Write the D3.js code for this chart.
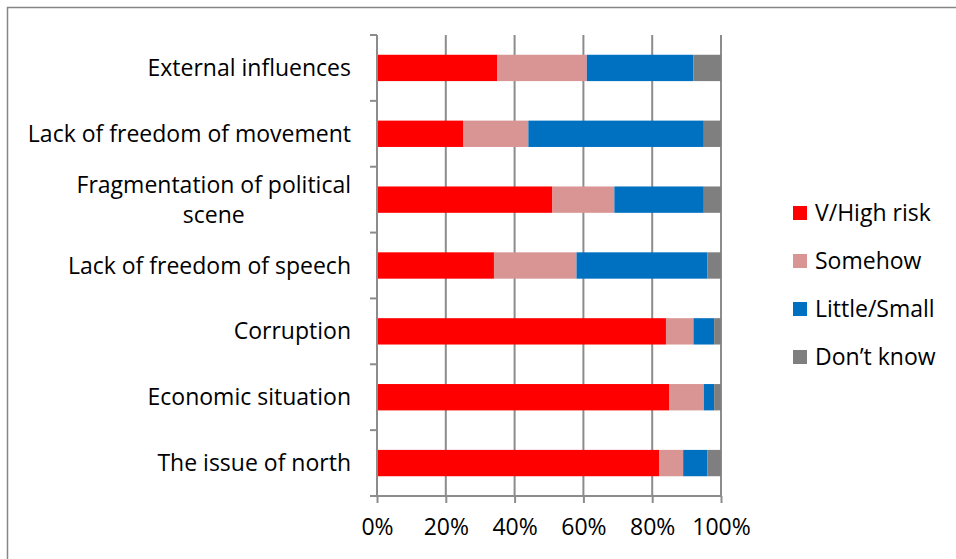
<!DOCTYPE html>
<html>
<head>
<meta charset="utf-8">
<script src="https://cdn.jsdelivr.net/npm/d3@7"></script>
<style>
  html, body { margin: 0; padding: 0; background: #fff; }
  svg text { font-family: "Open Sans", Lato, sans-serif; fill: #000; }
</style>
</head>
<body>
<svg id="chart" width="956" height="559"></svg>
<script>
// Perceived risks: share of answers per category (percent)
const categories = [
  "External influences",
  "Lack of freedom of movement",
  "Fragmentation of political scene",
  "Lack of freedom of speech",
  "Corruption",
  "Economic situation",
  "The issue of north"
];
const seriesNames = ["V/High risk", "Somehow", "Little/Small", "Don\u2019t know"];
const highRisk  = [35, 25, 51, 34, 84, 85, 82];
const somehow   = [26, 19, 18, 24,  8, 10,  7];
const little    = [31, 51, 26, 38,  6,  3,  7];
const dontKnow  = [ 8,  5,  5,  4,  2,  2,  4];
const xTicks = [0, 20, 40, 60, 80, 100];
const colors = ["#FF0000", "#D99594", "#0070C0", "#7F7F7F"];

// Wrapped label lines
const labelLines = {
  "Fragmentation of political scene": ["Fragmentation of political", "scene"]
};

const FONT = "23px";
const LABEL_RIGHT = 351;
const svg = d3.select("#chart");

// Outer frame
svg.append("rect")
  .attr("x", 7.5).attr("y", 7.5)
  .attr("width", 1000).attr("height", 1000)
  .attr("fill", "none").attr("stroke", "#868686").attr("stroke-width", 1.5);

const x0 = 377, x1 = 721, yTop = 35, yBot = 496;
const x = d3.scaleLinear().domain([0, 100]).range([x0, x1]);
const y = d3.scaleBand().domain(categories).range([yTop, yBot])
  .paddingInner(0.6).paddingOuter(0.3);

// Vertical gridlines
svg.append("g").selectAll("line")
  .data(xTicks.filter(t => t > 0))
  .join("line")
  .attr("x1", d => x(d)).attr("x2", d => x(d))
  .attr("y1", yTop).attr("y2", yBot)
  .attr("stroke", "#8C8C8C").attr("stroke-width", 2);

// Stacked bars
const rows = categories.map((c, i) => ({
  cat: c,
  [seriesNames[0]]: highRisk[i],
  [seriesNames[1]]: somehow[i],
  [seriesNames[2]]: little[i],
  [seriesNames[3]]: dontKnow[i]
}));
const stacked = d3.stack().keys(seriesNames)(rows);

svg.append("g").selectAll("g")
  .data(stacked)
  .join("g")
  .attr("fill", (d, i) => colors[i])
  .selectAll("rect")
  .data(d => d)
  .join("rect")
  .attr("x", d => x(d[0]))
  .attr("width", d => x(d[1]) - x(d[0]))
  .attr("y", d => y(d.data.cat))
  .attr("height", y.bandwidth());

// Left axis line and category boundary ticks
const step = y.step();
const bounds = d3.range(categories.length + 1).map(i => yTop + i * step);
svg.append("line")
  .attr("x1", x0).attr("x2", x0).attr("y1", yTop).attr("y2", yBot)
  .attr("stroke", "#8C8C8C").attr("stroke-width", 2);
svg.append("g").selectAll("line")
  .data(bounds).join("line")
  .attr("x1", x0 - 7).attr("x2", x0)
  .attr("y1", d => d).attr("y2", d => d)
  .attr("stroke", "#8C8C8C").attr("stroke-width", 2);

// Bottom axis
const xAxis = d3.axisBottom(x).tickValues(xTicks).tickFormat(d => d + "%")
  .tickSize(7).tickSizeOuter(0);
const gx = svg.append("g").attr("transform", `translate(0,${yBot})`).call(xAxis);
gx.select(".domain").attr("stroke", "#8C8C8C").attr("stroke-width", 2)
  .attr("d", `M${x0 - 7},0H${x1}`);
gx.selectAll(".tick line").attr("stroke", "#8C8C8C").attr("stroke-width", 2);
gx.selectAll(".tick text")
  .attr("y", 31).attr("dy", "0.35em")
  .style("font-size", FONT).style("font-family", "'Open Sans', sans-serif").attr("fill", "#000");

// Category labels
const labels = svg.append("g");
categories.forEach(c => {
  const cy = y(c) + y.bandwidth() / 2;
  const lines = labelLines[c] || [c];
  const t = labels.append("text")
    .attr("text-anchor", lines.length > 1 ? "middle" : "end")
    .style("font-size", FONT);
  if (lines.length === 1) {
    t.attr("x", LABEL_RIGHT).attr("y", cy).attr("dy", "0.35em").text(c);
  } else {
    // Multi-line label: centred lines, block right-aligned at the axis gap
    const tmp = labels.append("text").style("font-size", FONT).text(lines[0]);
    const w = tmp.node().getComputedTextLength();
    tmp.remove();
    const cx = LABEL_RIGHT - w / 2;
    const lh = 30;
    lines.forEach((ln, k) => {
      t.append("tspan")
        .attr("x", cx)
        .attr("y", cy + (k - (lines.length - 1) / 2) * lh)
        .attr("dy", "0.35em")
        .text(ln);
    });
  }
});

// Legend
const legend = svg.append("g");
seriesNames.forEach((s, i) => {
  const ly = 213 + i * 48;
  legend.append("rect")
    .attr("x", 793).attr("y", ly - 7)
    .attr("width", 14).attr("height", 14)
    .attr("fill", colors[i]);
  legend.append("text")
    .attr("x", 815).attr("y", ly).attr("dy", "0.35em")
    .style("font-size", FONT)
    .text(s);
});
</script>
</body>
</html>
